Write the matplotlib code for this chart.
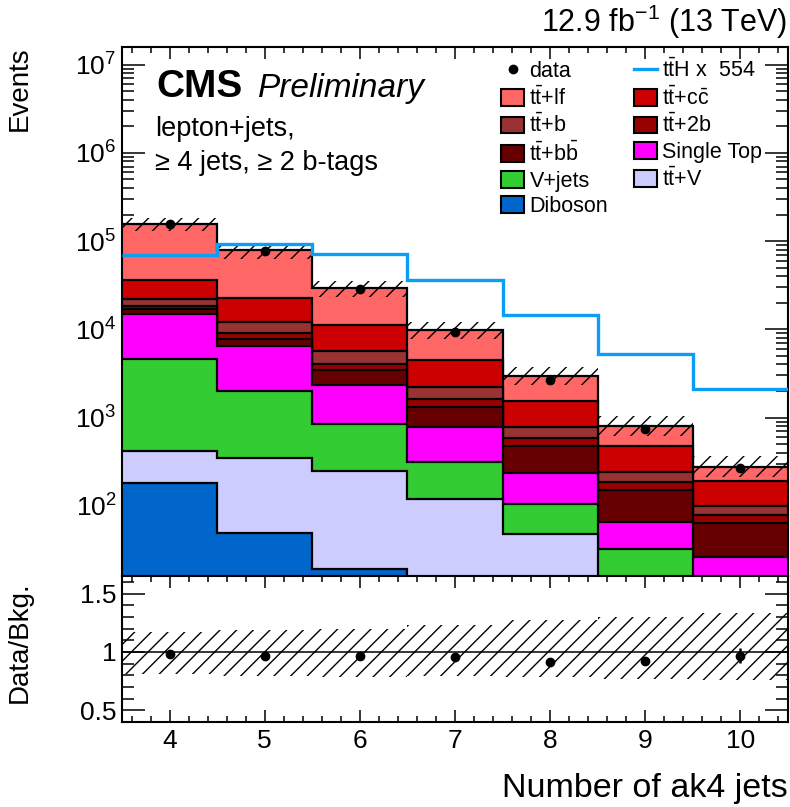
import numpy as np
import matplotlib
matplotlib.use("Agg")
import matplotlib.pyplot as plt
from matplotlib.patches import Patch
from matplotlib.lines import Line2D
from matplotlib.ticker import (MultipleLocator, FixedLocator, FuncFormatter, LogLocator,
                               NullFormatter)

plt.rcParams["font.family"] = ["Liberation Sans", "DejaVu Sans"]
plt.rcParams["mathtext.fontset"] = "custom"
plt.rcParams["mathtext.rm"] = "Liberation Sans"
plt.rcParams["mathtext.it"] = "Liberation Sans:italic"
plt.rcParams["mathtext.bf"] = "Liberation Sans:bold"
plt.rcParams["hatch.linewidth"] = 1.0

# jet multiplicity bins
n_jets = [4, 5, 6, 7, 8, 9, 10]

# background yields per bin (stack order, bottom -> top)
diboson = [180, 49, 19, 8, 5, 1, 0.5]
ttv = [237, 295, 230, 110, 43, 10, 4]
vjets = [4200, 1660, 590, 192, 58, 21.5, 8]
single_top = [10480, 4490, 1530, 463, 131, 32.5, 13.9]
ttbb = [1700, 1380, 1070, 547, 237, 87, 37.8]
tt2b = [1500, 1230, 660, 325, 106, 36, 14.4]
ttb = [3600, 3000, 1590, 585, 205, 56, 20.8]
ttcc = [14100, 10800, 5610, 2240, 760, 235, 90.7]
ttlf = [122000, 57100, 18400, 5300, 1395, 322, 87]

# signal (scaled x554) and data
tth_scaled = [69000, 92000, 71000, 36000, 14400, 5200, 2120]
data = [155000, 77500, 28600, 9350, 2680, 740, 268]
data_err = [390, 280, 170, 97, 52, 27, 18]

# relative background uncertainty band
unc_up = [1.17, 1.19, 1.20, 1.23, 1.27, 1.30, 1.33]
unc_dn = [0.815, 0.79, 0.786, 0.79, 0.786, 0.77, 0.757]

components = [
    (diboson, "#0066cc", "Diboson"),
    (ttv, "#ccccff", r"$\mathrm{t\bar{t}}$+V"),
    (vjets, "#33cc33", "V+jets"),
    (single_top, "#ff00ff", "Single Top"),
    (ttbb, "#660000", r"$\mathrm{t\bar{t}}$+$\mathrm{b\bar{b}}$"),
    (tt2b, "#990000", r"$\mathrm{t\bar{t}}$+2b"),
    (ttb, "#993333", r"$\mathrm{t\bar{t}}$+b"),
    (ttcc, "#cc0000", r"$\mathrm{t\bar{t}}$+$\mathrm{c\bar{c}}$"),
    (ttlf, "#ff6666", r"$\mathrm{t\bar{t}}$+lf"),
]

x = np.array(n_jets, dtype=float)
edges = np.append(x - 0.5, x[-1] + 0.5)
cum = np.cumsum([np.array(c[0], dtype=float) for c in components], axis=0)
total = cum[-1]

W, H = 790, 807
fig = plt.figure(figsize=(W / 100, H / 100), dpi=100)
left, right = 122, 788
ax = fig.add_axes([left / W, 1 - 576 / H, (right - left) / W, (576 - 46.7) / H])
rax = fig.add_axes([left / W, 1 - 722 / H, (right - left) / W, (722 - 576) / H], sharex=ax)

# stacked histogram, drawn as cumulative fills from the top down
for k in range(len(components) - 1, -1, -1):
    col = components[k][1]
    ax.stairs(cum[k], edges, baseline=1e-3, fill=True, color=col, zorder=2 + 0.01 * (9 - k))
    ax.stairs(cum[k], edges, baseline=None, color="k", lw=1.6, zorder=2.005 + 0.01 * (9 - k))

ax.stairs(total * np.array(unc_up), edges, baseline=total * np.array(unc_dn), fill=True,
          facecolor="none", edgecolor="k", lw=0, hatch="//", zorder=3)
ax.stairs(tth_scaled, edges, baseline=None, color="#0a9ef5", lw=2.4, zorder=4)
ax.errorbar(x, data, yerr=data_err, fmt="o", color="k", ms=6, elinewidth=1.5, capsize=0, zorder=5)

ax.set_yscale("log")
ax.set_ylim(16, 1.6e7)
ax.set_xlim(3.5, 10.5)
ax.yaxis.set_major_locator(LogLocator(base=10, numticks=20))
ax.yaxis.set_minor_locator(LogLocator(base=10, subs=np.arange(2, 10), numticks=20))
ax.yaxis.set_minor_formatter(NullFormatter())
ax.set_ylabel("Events", fontsize=20, loc="top")
ax.yaxis.set_label_coords(-0.134, 1.0)

# ratio panel
ratio = np.array(data) / total
ratio_err = np.array(data_err) / total
rax.stairs(unc_up, edges, baseline=unc_dn, fill=True, facecolor="none", edgecolor="k",
           lw=0, hatch="//", zorder=2)
rax.axhline(1.0, color="k", lw=1.1, zorder=3)
rax.errorbar(x, ratio, yerr=ratio_err, fmt="o", color="k", ms=6, elinewidth=1.8, capsize=0, zorder=4)
rax.set_ylim(0.4, 1.65)
rax.yaxis.set_major_locator(FixedLocator([0.5, 1.0, 1.5]))
rax.yaxis.set_minor_locator(MultipleLocator(0.1))
rax.yaxis.set_major_formatter(FuncFormatter(lambda v, p: "%g" % v))
rax.xaxis.set_major_locator(MultipleLocator(1))
rax.xaxis.set_minor_locator(MultipleLocator(0.2))
rax.set_ylabel("Data/Bkg.", fontsize=20)
rax.yaxis.set_label_coords(-0.134, 0.55)
rax.set_xlabel("Number of ak4 jets", fontsize=24.5, ha="right")
rax.xaxis.set_label_coords(1.0, -0.35)

for a in (ax, rax):
    for s in a.spines.values():
        s.set_linewidth(1.5)
    a.tick_params(which="both", direction="in", top=True, right=True, width=1.1,
                  labelsize=19)
    a.tick_params(axis="x", which="major", length=8.6, pad=5)
    a.tick_params(axis="x", which="minor", length=4.3)
    a.tick_params(axis="y", which="major", length=16.5, pad=4)
    a.tick_params(axis="y", which="minor", length=8.6)
ax.tick_params(axis="x", which="both", labelbottom=False)

# legend
handles = [Line2D([], [], marker="o", ls="none", color="k", ms=6)]
labels = ["data"]
for k in [8, 6, 4, 2, 0]:
    handles.append(Patch(facecolor=components[k][1], edgecolor="k", lw=1.5))
    labels.append(components[k][2])
handles.append(Line2D([], [], color="#0a9ef5", lw=2.4))
labels.append(r"$\mathrm{t\bar{t}}$H x  554")
for k in [7, 5, 3, 1]:
    handles.append(Patch(facecolor=components[k][1], edgecolor="k", lw=1.5))
    labels.append(components[k][2])
ax.legend(handles, labels, ncol=2, loc="upper left", bbox_to_anchor=(501 / W, 1 - 59 / H),
          bbox_transform=fig.transFigure, frameon=False, fontsize=15.5, borderpad=0,
          borderaxespad=0, handlelength=1.07, handleheight=0.83, handletextpad=0.25,
          columnspacing=1.2, labelspacing=0.21)

# CMS labels
fig.text(156 / W, 1 - 97 / H, "CMS", fontsize=28, fontweight="bold", va="baseline")
fig.text(258 / W, 1 - 97 / H, "Preliminary", fontsize=24, style="italic", va="baseline")
fig.text(155 / W, 1 - 136 / H, "lepton+jets,", fontsize=19.5, va="baseline")
fig.text(155 / W, 1 - 170 / H, "\u2265 4 jets, \u2265 2 b-tags", fontsize=19.5, va="baseline")
fig.text(787 / W, 1 - 32 / H, r"12.9 fb$^{-1}$ (13 TeV)", fontsize=22, ha="right", va="baseline")

fig.savefig("out.png", dpi=100)
